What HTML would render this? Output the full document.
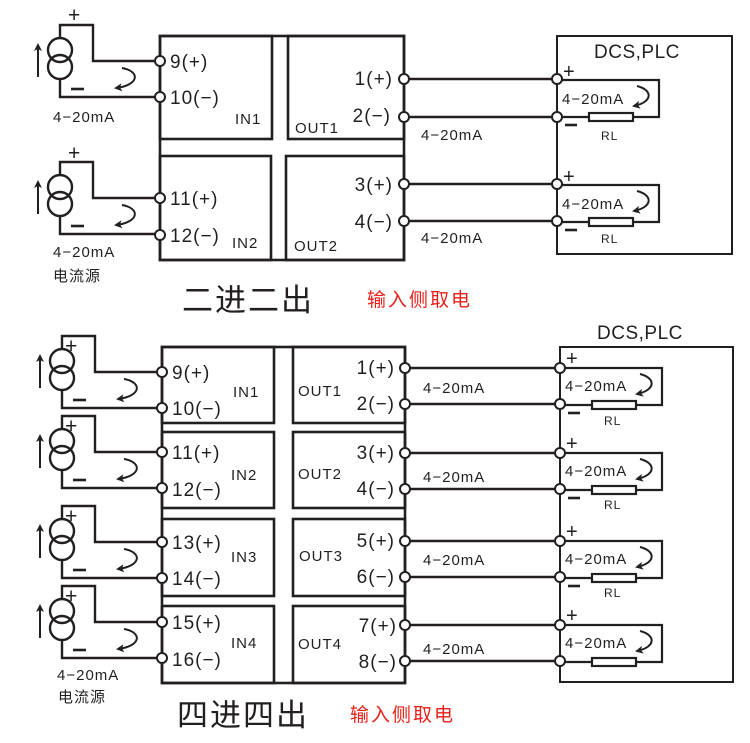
<!DOCTYPE html>
<html><head><meta charset="utf-8"><style>
html,body{margin:0;padding:0;background:#fff;}
svg{display:block;}
text{font-family:"Liberation Sans","Noto Sans CJK SC",sans-serif;fill:#231f20;}
.t{font-size:19px;letter-spacing:1px;}
.m{font-size:15px;letter-spacing:1px;}
</style></head><body>
<svg width="750" height="743" viewBox="0 0 750 743" xmlns="http://www.w3.org/2000/svg">
<defs>
<marker id="ah" markerWidth="8" markerHeight="8" refX="6" refY="4" orient="auto" markerUnits="userSpaceOnUse">
<path d="M0,0 L8,4 L0,8 L2,4 Z" fill="#231f20"/></marker>
<g id="src" fill="none" stroke="#231f20" stroke-width="2.4">
<circle cx="0" cy="25" r="12"/><circle cx="0" cy="42" r="12"/>
<polyline points="0,13 0,0 33,0 33,36 95,36"/>
<polyline points="0,54 0,72 95,72"/>
<line x1="-22" y1="52" x2="-22" y2="20" marker-end="url(#ah)" stroke-width="2"/>
<path d="M62,43 C80,46 80,60 56,63" stroke-width="2" marker-end="url(#ah)"/>
<line x1="11" y1="64" x2="24" y2="64" stroke-width="2.6"/>
</g>
<g id="loopn" fill="none" stroke="#231f20" stroke-width="2.2">
<polyline points="5,0 102,0 102,37 5,37"/>
<rect x="32" y="33" width="44" height="8" fill="#fff"/>
<path d="M80,6 C96,10 96,22 77,26" stroke-width="2" marker-end="url(#ah)"/>
</g>
<g id="loop">
<use href="#loopn"/>
<line x1="8" y1="45" x2="20" y2="45" stroke="#231f20" stroke-width="2.6"/>
</g>
</defs>

<!-- ===== TOP SECTION ===== -->
<g fill="none" stroke="#231f20" stroke-width="2.6">
<rect x="160" y="36" width="244" height="224"/>
<rect x="160" y="36" width="112" height="103"/>
<rect x="288" y="36" width="116" height="103"/>
<rect x="160" y="156" width="111" height="104"/>
<rect x="286" y="156" width="118" height="104"/>
<rect x="557" y="36" width="175" height="218" stroke-width="2"/>
<line x1="404" y1="79" x2="557" y2="79"/>
<line x1="404" y1="117" x2="557" y2="117"/>
<line x1="404" y1="184" x2="557" y2="184"/>
<line x1="404" y1="221" x2="557" y2="221"/>
</g>
<use href="#src" x="60" y="25"/>
<use href="#src" x="60" y="162"/>
<use href="#loop" x="557" y="80"/>
<use href="#loop" x="557" y="185"/>
<g fill="#fff" stroke="#231f20" stroke-width="2">
<circle cx="160" cy="61" r="5"/><circle cx="160" cy="97" r="5"/>
<circle cx="160" cy="198" r="5"/><circle cx="160" cy="235" r="5"/>
<circle cx="404" cy="79" r="5"/><circle cx="404" cy="117" r="5"/>
<circle cx="404" cy="184" r="5"/><circle cx="404" cy="221" r="5"/>
<circle cx="557" cy="79" r="5"/><circle cx="557" cy="117" r="5"/>
<circle cx="557" cy="184" r="5"/><circle cx="557" cy="221" r="5"/>
</g>
<g class="t">
<text x="68" y="22" font-size="21">+</text>
<text x="68" y="160" font-size="21">+</text>
<text x="170" y="68">9(+)</text><text x="170" y="104">10(−)</text>
<text x="170" y="205">11(+)</text><text x="170" y="242">12(−)</text>
<text x="393" y="85" text-anchor="end">1(+)</text><text x="391" y="122" text-anchor="end">2(−)</text>
<text x="393" y="191" text-anchor="end">3(+)</text><text x="393" y="228" text-anchor="end">4(−)</text>
<text x="594" y="58" font-size="19" letter-spacing="0.5">DCS,PLC</text>
<text x="563" y="78" font-size="20">+</text>
<text x="563" y="183" font-size="20">+</text>
</g>
<g class="m">
<text x="53" y="122">4−20mA</text>
<text x="53" y="257">4−20mA</text>
<text x="53" y="281">电流源</text>
<text x="235" y="124">IN1</text><text x="295" y="133">OUT1</text>
<text x="232" y="248">IN2</text><text x="294" y="251">OUT2</text>
<text x="421" y="140">4−20mA</text><text x="421" y="243">4−20mA</text>
<text x="562" y="104">4−20mA</text><text x="562" y="209">4−20mA</text>
<text x="601" y="140" font-size="12">RL</text><text x="601" y="243" font-size="12">RL</text>
</g>
<text x="182" y="311" font-size="31" letter-spacing="2">二进二出</text>
<text x="367" y="306" font-size="19" letter-spacing="2" style="fill:#e8201a">输入侧取电</text>

<!-- ===== BOTTOM SECTION ===== -->
<g fill="none" stroke="#231f20" stroke-width="2.6">
<rect x="162" y="347" width="243" height="336"/>
<rect x="162" y="347" width="112" height="76"/>
<rect x="293" y="347" width="112" height="76"/>
<rect x="162" y="432" width="112" height="76"/>
<rect x="293" y="432" width="112" height="76"/>
<rect x="162" y="519" width="112" height="77"/>
<rect x="293" y="519" width="112" height="77"/>
<rect x="162" y="606" width="112" height="77"/>
<rect x="293" y="606" width="112" height="77"/>
<rect x="560" y="347" width="173" height="335" stroke-width="2"/>
<line x1="405" y1="368" x2="560" y2="368"/><line x1="405" y1="404" x2="560" y2="404"/>
<line x1="405" y1="453" x2="560" y2="453"/><line x1="405" y1="489" x2="560" y2="489"/>
<line x1="405" y1="541" x2="560" y2="541"/><line x1="405" y1="577" x2="560" y2="577"/>
<line x1="405" y1="625" x2="560" y2="625"/><line x1="405" y1="661" x2="560" y2="661"/>
</g>
<use href="#src" x="62" y="336"/>
<use href="#src" x="62" y="416"/>
<use href="#src" x="62" y="506"/>
<use href="#src" x="62" y="586"/>
<use href="#loop" x="560" y="368"/>
<use href="#loop" x="560" y="453"/>
<use href="#loop" x="560" y="541"/>
<use href="#loopn" x="560" y="625"/>
<g fill="#fff" stroke="#231f20" stroke-width="2">
<circle cx="162" cy="372" r="5"/><circle cx="162" cy="408" r="5"/>
<circle cx="162" cy="452" r="5"/><circle cx="162" cy="488" r="5"/>
<circle cx="162" cy="542" r="5"/><circle cx="162" cy="578" r="5"/>
<circle cx="162" cy="622" r="5"/><circle cx="162" cy="658" r="5"/>
<circle cx="405" cy="368" r="5"/><circle cx="405" cy="404" r="5"/>
<circle cx="405" cy="453" r="5"/><circle cx="405" cy="489" r="5"/>
<circle cx="405" cy="541" r="5"/><circle cx="405" cy="577" r="5"/>
<circle cx="405" cy="625" r="5"/><circle cx="405" cy="661" r="5"/>
<circle cx="560" cy="368" r="5"/><circle cx="560" cy="404" r="5"/>
<circle cx="560" cy="453" r="5"/><circle cx="560" cy="489" r="5"/>
<circle cx="560" cy="541" r="5"/><circle cx="560" cy="577" r="5"/>
<circle cx="560" cy="625" r="5"/><circle cx="560" cy="661" r="5"/>
</g>
<g class="t">
<text x="65" y="353" font-size="21">+</text>
<text x="65" y="433" font-size="21">+</text>
<text x="65" y="523" font-size="21">+</text>
<text x="65" y="603" font-size="21">+</text>
<text x="172" y="379">9(+)</text><text x="172" y="415">10(−)</text>
<text x="172" y="459">11(+)</text><text x="172" y="496">12(−)</text>
<text x="172" y="549">13(+)</text><text x="172" y="585">14(−)</text>
<text x="172" y="629">15(+)</text><text x="172" y="666">16(−)</text>
<text x="395" y="374" text-anchor="end">1(+)</text><text x="395" y="410" text-anchor="end">2(−)</text>
<text x="395" y="459" text-anchor="end">3(+)</text><text x="395" y="495" text-anchor="end">4(−)</text>
<text x="395" y="547" text-anchor="end">5(+)</text><text x="395" y="583" text-anchor="end">6(−)</text>
<text x="397" y="632" text-anchor="end">7(+)</text><text x="397" y="668" text-anchor="end">8(−)</text>
<text x="597" y="339" font-size="19" letter-spacing="0.5">DCS,PLC</text>
<text x="566" y="365" font-size="20">+</text>
<text x="566" y="450" font-size="20">+</text>
<text x="566" y="538" font-size="20">+</text>
<text x="566" y="622" font-size="20">+</text>
</g>
<g class="m">
<text x="233" y="397">IN1</text><text x="298" y="396">OUT1</text>
<text x="231" y="480">IN2</text><text x="298" y="479">OUT2</text>
<text x="231" y="562">IN3</text><text x="299" y="561">OUT3</text>
<text x="231" y="648">IN4</text><text x="298" y="649">OUT4</text>
<text x="423" y="393">4−20mA</text><text x="423" y="482">4−20mA</text>
<text x="423" y="565">4−20mA</text><text x="423" y="654">4−20mA</text>
<text x="565" y="391">4−20mA</text><text x="565" y="476">4−20mA</text>
<text x="565" y="564">4−20mA</text><text x="565" y="648">4−20mA</text>
<text x="604" y="425" font-size="12">RL</text><text x="604" y="509" font-size="12">RL</text>
<text x="604" y="597" font-size="12">RL</text>
<text x="57" y="680">4−20mA</text>
<text x="58" y="702">电流源</text>
</g>
<text x="177" y="726" font-size="31" letter-spacing="2">四进四出</text>
<text x="350" y="721" font-size="19" letter-spacing="2" style="fill:#e8201a">输入侧取电</text>
</svg>
</body></html>
